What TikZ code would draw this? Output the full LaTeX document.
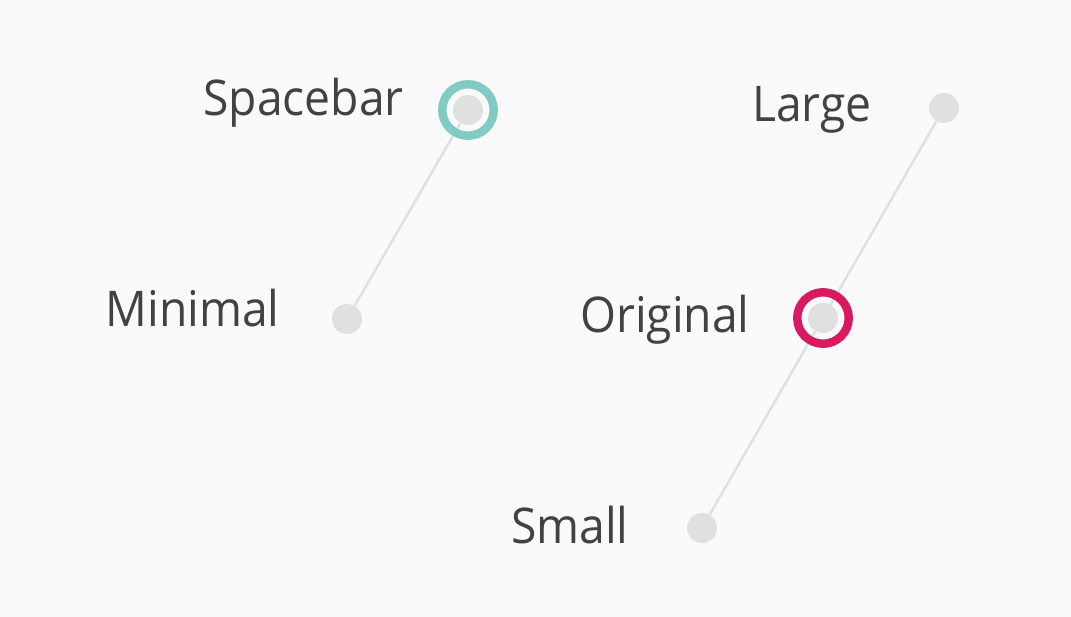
\documentclass[tikz,border=0pt]{standalone}
\usepackage{fontspec}
\setmainfont[FakeStretch=0.94]{Open Sans}
\usetikzlibrary{positioning}
\definecolor{bgcol}{HTML}{FAFAFA}
\definecolor{textcol}{HTML}{424242}
\definecolor{dotcol}{HTML}{E0E0E0}
\definecolor{tealcol}{HTML}{80CBC4}
\definecolor{pinkcol}{HTML}{D81B60}
\begin{document}
\begin{tikzpicture}[x=0.02cm, y=-0.02cm,
			dot/.style={circle, fill=dotcol, minimum size=0.6cm, inner sep=0pt},
			ring/.style={circle, draw=#1, line width=4.8pt, minimum size=1.03cm, inner sep=0pt},
			label/.style={anchor=base east, inner sep=0pt, text=textcol, font=\fontsize{28}{30}\selectfont},
			track/.style={draw=dotcol, line width=1.4pt}]
			\useasboundingbox[fill=bgcol] (0,0) rectangle (1071,617);
			% dots
			\node[dot](spacebar) at (468,110){};
			\node[dot](minimal) at (347,319){};
			\node[dot](large) at (944,108){};
			\node[dot](original) at (823,318){};
			\node[dot](small) at (702,528){};
			% labels
			\node[label](spacebartext) at (404,116){Spacebar};
			\node[label](minimaltext) at (280,327){Minimal};
			\node[label](largetext) at (872,122){Large};
			\node[label](originaltext) at (750,333){Original};
			\node[label](smalltext) at (629,543){Small};
			% tracks
			\path[track] (spacebar) -- (minimal);
			\path[track] (large) -- (original) -- (small);
			\node[ring=tealcol] at (spacebar){};
			\node[ring=pinkcol] at (original){};
	\end{tikzpicture}
\end{document}
